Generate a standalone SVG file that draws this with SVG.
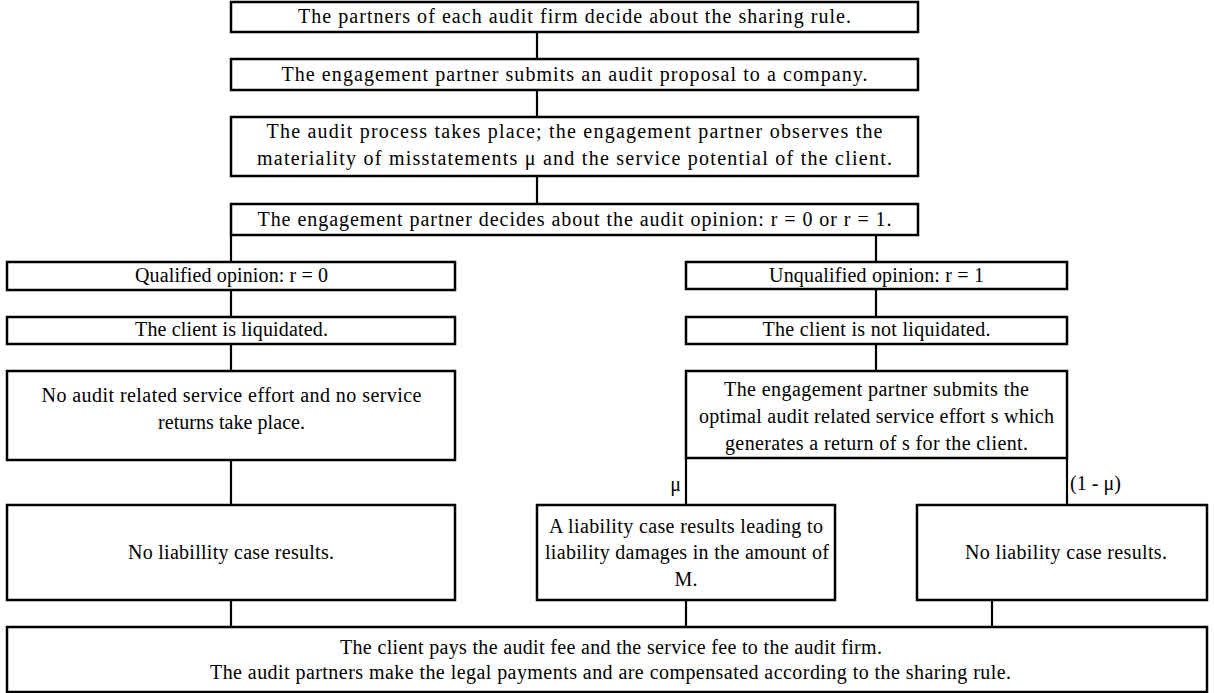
<svg xmlns="http://www.w3.org/2000/svg" width="1214" height="693" viewBox="0 0 1214 693">
<style>
.box{fill:#fff;stroke:#000;stroke-width:2.5}
.c{stroke:#000;stroke-width:2.2;fill:none}
text{font-family:"Liberation Serif","Times New Roman",serif;font-size:20px;fill:#000;text-anchor:middle}
.l{text-anchor:start}
.r{text-anchor:end}
</style>
<rect width="1214" height="693" fill="#fff"/>
<g id="connectors">
<line class="c" x1="537" y1="32" x2="537" y2="59"/>
<line class="c" x1="537" y1="90" x2="537" y2="117"/>
<line class="c" x1="537" y1="176" x2="537" y2="204"/>
<line class="c" x1="231" y1="235" x2="231" y2="262"/>
<line class="c" x1="876" y1="235" x2="876" y2="262"/>
<line class="c" x1="231" y1="290" x2="231" y2="317"/>
<line class="c" x1="231" y1="344" x2="231" y2="371"/>
<line class="c" x1="231" y1="460" x2="231" y2="505"/>
<line class="c" x1="231" y1="600" x2="231" y2="627"/>
<line class="c" x1="876" y1="289" x2="876" y2="317"/>
<line class="c" x1="876" y1="344" x2="876" y2="371"/>
<line class="c" x1="686" y1="458" x2="686" y2="505"/>
<line class="c" x1="1067" y1="458" x2="1067" y2="505"/>
<line class="c" x1="686" y1="600" x2="686" y2="627"/>
<line class="c" x1="992" y1="600" x2="992" y2="627"/>
<text class="r" x="681" y="491">μ</text>
<text class="l" x="1070" y="490" textLength="51" lengthAdjust="spacing">(1 - μ)</text>
</g>
<g id="n1"><rect class="box" x="231" y="2" width="687" height="30"/><text x="574.5" y="23" textLength="553" lengthAdjust="spacing">The partners of each audit firm decide about the sharing rule.</text></g>
<g id="n2"><rect class="box" x="231" y="59" width="687" height="31"/><text x="574.5" y="81" textLength="586" lengthAdjust="spacing">The engagement partner submits an audit proposal to a company.</text></g>
<g id="n3"><rect class="box" x="231" y="117" width="687" height="59"/><text x="574.5" y="138" textLength="616" lengthAdjust="spacing">The audit process takes place; the engagement partner observes the</text><text x="574.5" y="165" textLength="635" lengthAdjust="spacing">materiality of misstatements μ and the service potential of the client.</text></g>
<g id="n4"><rect class="box" x="231" y="204" width="687" height="31"/><text x="574.5" y="226" textLength="634" lengthAdjust="spacing">The engagement partner decides about the audit opinion: r = 0 or  r = 1.</text></g>
<g id="n5"><rect class="box" x="7" y="262" width="448" height="28"/><text x="231.5" y="282" textLength="193" lengthAdjust="spacing">Qualified opinion: r = 0</text></g>
<g id="n6"><rect class="box" x="7" y="317" width="448" height="27"/><text x="231.5" y="336" textLength="193" lengthAdjust="spacing">The client is liquidated.</text></g>
<g id="n7"><rect class="box" x="7" y="371" width="448" height="89"/><text x="231.5" y="402" textLength="380" lengthAdjust="spacing">No audit related service effort and no service</text><text x="231.5" y="429" textLength="147" lengthAdjust="spacing">returns take place.</text></g>
<g id="n8"><rect class="box" x="7" y="505" width="448" height="95"/><text x="231" y="559" textLength="206" lengthAdjust="spacing">No liabillity case results.</text></g>
<g id="n9"><rect class="box" x="686" y="262" width="381" height="27"/><text x="876.5" y="282" textLength="215" lengthAdjust="spacing">Unqualified opinion: r = 1</text></g>
<g id="n10"><rect class="box" x="686" y="317" width="381" height="27"/><text x="876.5" y="336" textLength="228" lengthAdjust="spacing">The client is not liquidated.</text></g>
<g id="n11"><rect class="box" x="686" y="371" width="381" height="87"/><text x="876.5" y="396" textLength="305" lengthAdjust="spacing">The engagement partner submits the</text><text x="876.5" y="423" textLength="355" lengthAdjust="spacing">optimal audit related service effort s which</text><text x="876.5" y="450" textLength="303" lengthAdjust="spacing">generates a return of s for the client.</text></g>
<g id="n12"><rect class="box" x="537" y="505" width="298" height="95"/><text x="686" y="533" textLength="274" lengthAdjust="spacing">A liability case results leading to</text><text x="687" y="559" textLength="284" lengthAdjust="spacing">liability damages in the amount of</text><text x="686" y="586">M.</text></g>
<g id="n13"><rect class="box" x="917" y="505" width="290" height="95"/><text x="1066" y="559" textLength="202" lengthAdjust="spacing">No liability case results.</text></g>
<g id="n14"><rect class="box" x="7" y="627" width="1200" height="65"/><text x="611" y="654" textLength="542" lengthAdjust="spacing">The client pays the audit fee and the service fee to the audit firm.</text><text x="610.5" y="679" textLength="801" lengthAdjust="spacing">The audit partners make the legal payments and are compensated according to the sharing rule.</text></g>
</svg>
